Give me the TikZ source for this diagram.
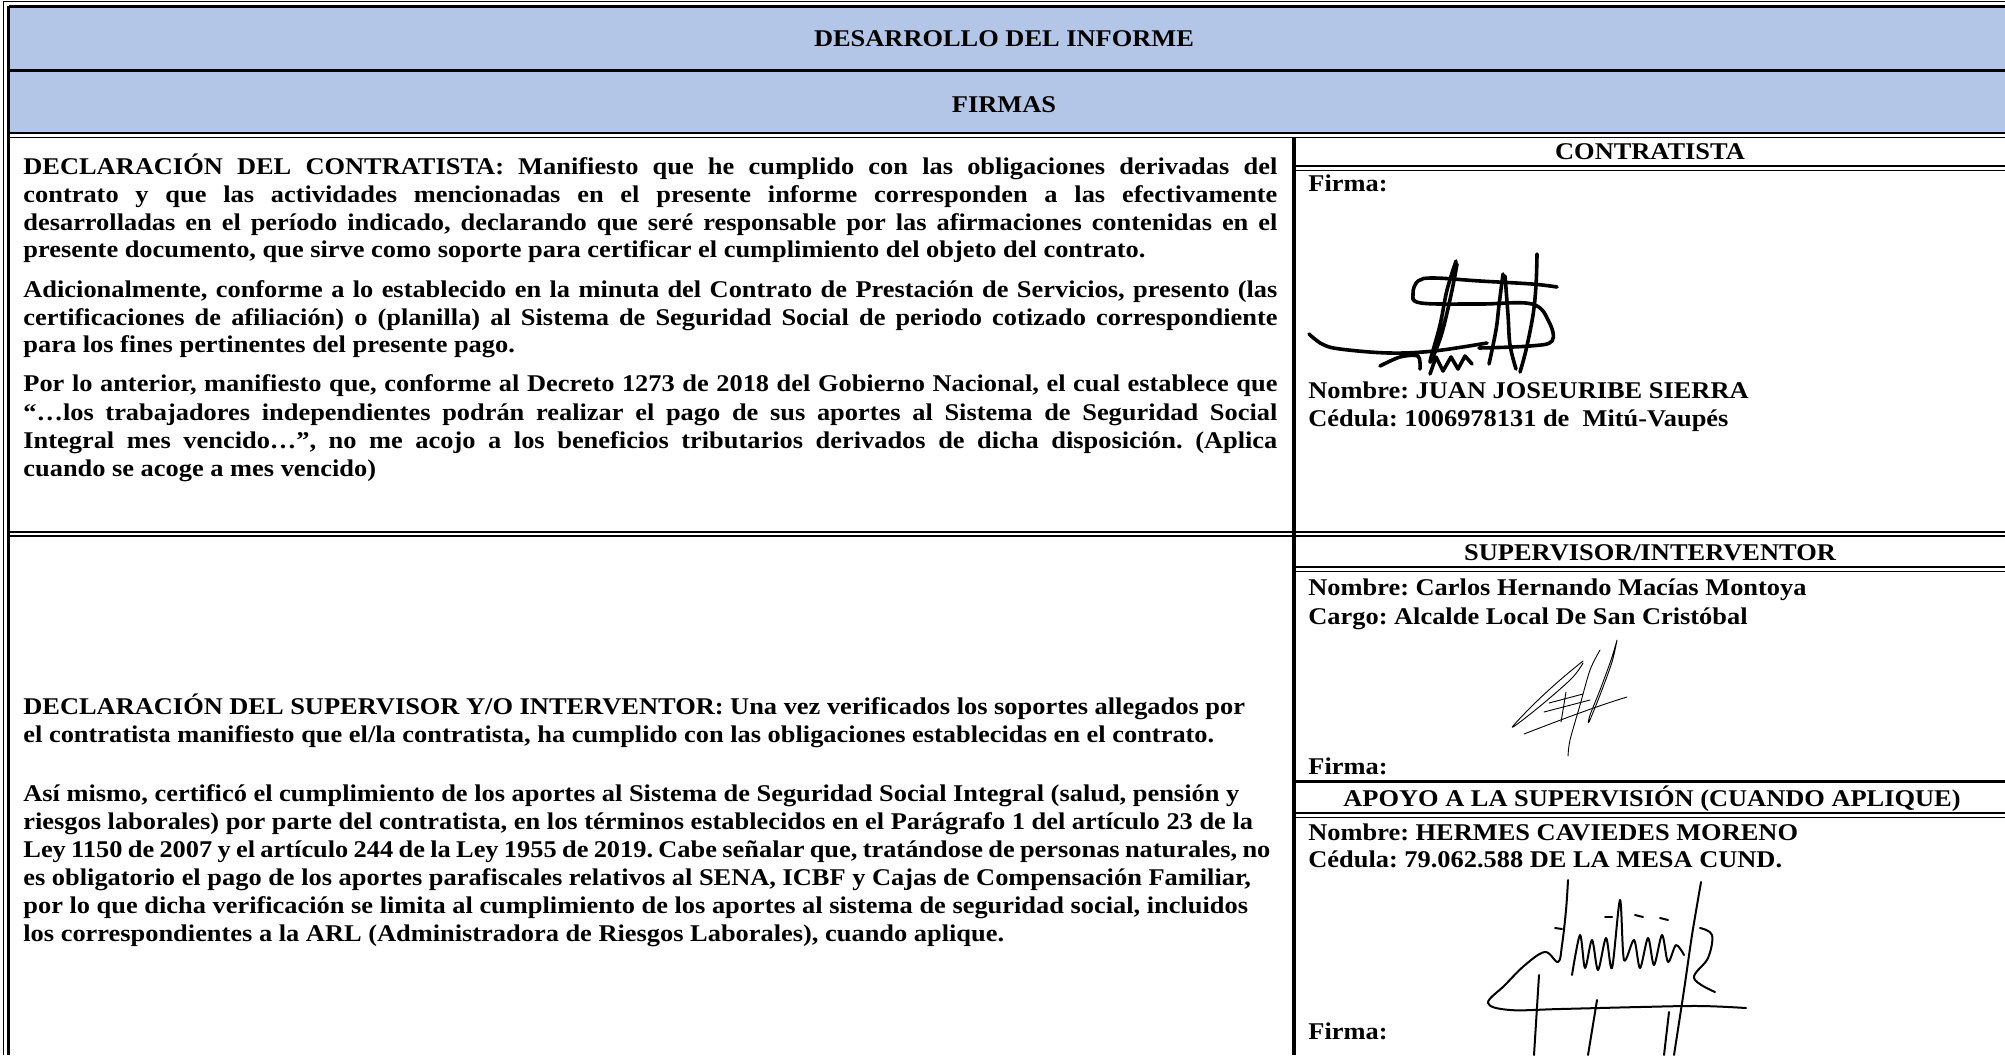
\documentclass[tikz,border=0pt]{standalone}
\usepackage{fontspec}
\setmainfont{Liberation Serif}[FakeStretch=1.10]
\definecolor{hdrblue}{HTML}{B4C6E7}
\newcommand{\jline}[1]{\makebox[627pt][s]{#1}}
\tikzset{
  body/.style={inner sep=0pt, anchor=base west, font=\fontsize{12pt}{14pt}\selectfont\bfseries\frenchspacing},
  headtxt/.style={inner sep=0pt, anchor=base, font=\fontsize{12pt}{14pt}\selectfont\bfseries\frenchspacing},
  thinrule/.style={line width=0.6pt},
  midrule/.style={line width=1pt},
  thickrule/.style={line width=1.5pt},
  sigthick/.style={line width=1.8pt, line cap=round, line join=round},
  sigthin/.style={line width=0.45pt, line cap=round, line join=round},
  sigmid/.style={line width=1pt, line cap=round, line join=round},
}
\begin{document}
\begin{tikzpicture}[x=0.5pt,y=-0.5pt]
\useasboundingbox (0,0) rectangle (2005,1055);
\fill[white] (0,0) rectangle (2005,1055);
% header bands
\fill[hdrblue] (9,6) rectangle (2005,133);
% outer double border
\draw[line width=0.65pt] (3.3,1.8) -- (2005,1.8);
\draw[line width=0.65pt] (3.3,1.8) -- (3.3,1055);
\draw[line width=1.35pt] (8.7,6.2) -- (2005,6.2);
\draw[line width=1.35pt] (8.7,6.2) -- (8.7,1055);
% header separators
\draw[thickrule] (8.7,70) -- (2005,70);
\draw[midrule] (8.7,133) -- (2005,133);
\draw[thinrule] (8.7,137.5) -- (2005,137.5);
% vertical divider
\draw[line width=1.6pt] (1294,137.5) -- (1294,1055);
% right column rules
\draw[midrule] (1295,166) -- (2005,166);
\draw[thinrule] (1295,170.5) -- (2005,170.5);
% row boundary
\draw[midrule] (8.7,531.5) -- (2005,531.5);
\draw[thinrule] (8.7,536) -- (2005,536);
\draw[midrule] (1295,567) -- (2005,567);
\draw[thinrule] (1295,571.5) -- (2005,571.5);
\draw[thickrule] (1295,781) -- (2005,781);
\draw[midrule] (1295,813) -- (2005,813);
\draw[thinrule] (1295,817.5) -- (2005,817.5);

% headers
\node[headtxt] (h1) at (1004,46) {DESARROLLO DEL INFORME};
\node[headtxt] (h2) at (1004,112) {FIRMAS};

% row 1 left
\node[body] (a1) at (23,174) {\jline{DECLARACIÓN DEL CONTRATISTA: Manifiesto que he cumplido con las obligaciones derivadas del}};
\node[body] (a2) at (23,202) {\jline{contrato y que las actividades mencionadas en el presente informe corresponden a las efectivamente}};
\node[body] (a3) at (23,230) {\jline{desarrolladas en el período indicado, declarando que seré responsable por las afirmaciones contenidas en el}};
\node[body] (a4) at (23,257) {presente documento, que sirve como soporte para certificar el cumplimiento del objeto del contrato.};
\node[body] (b1) at (23,297) {\jline{Adicionalmente, conforme a lo establecido en la minuta del Contrato de Prestación de Servicios, presento (las}};
\node[body] (b2) at (23,325) {\jline{certificaciones de afiliación) o (planilla) al Sistema de Seguridad Social de periodo cotizado correspondiente}};
\node[body] (b3) at (23,352) {para los fines pertinentes del presente pago.};
\node[body] (c1) at (23,391) {\jline{Por lo anterior, manifiesto que, conforme al Decreto 1273 de 2018 del Gobierno Nacional, el cual establece que}};
\node[body] (c2) at (23,420) {\jline{“…los trabajadores independientes podrán realizar el pago de sus aportes al Sistema de Seguridad Social}};
\node[body] (c3) at (23,448) {\jline{Integral mes vencido…”, no me acojo a los beneficios tributarios derivados de dicha disposición. (Aplica}};
\node[body] (c4) at (23,476) {cuando se acoge a mes vencido)};

% row 1 right
\node[headtxt] (t1) at (1650,159) {CONTRATISTA};
\node[body] (f1) at (1308,191) {Firma:};
\node[body] (n1) at (1308,398) {Nombre: JUAN JOSEURIBE SIERRA};
\node[body] (d1) at (1308,426) {Cédula: 1006978131 de\ \ Mitú-Vaupés};

% row 2 left
\node[body] (s1) at (23,714) {DECLARACIÓN DEL SUPERVISOR Y/O INTERVENTOR: Una vez verificados los soportes allegados por};
\node[body] (s2) at (23,742) {el contratista manifiesto que el/la contratista, ha cumplido con las obligaciones establecidas en el contrato.};
\node[body] (s3) at (23,801) {Así mismo, certificó el cumplimiento de los aportes al Sistema de Seguridad Social Integral (salud, pensión y};
\node[body] (s4) at (23,829) {riesgos laborales) por parte del contratista, en los términos establecidos en el Parágrafo 1 del artículo 23 de la};
\node[body] (s5) at (23,857) {\makebox[623.5pt][s]{Ley 1150 de 2007 y el artículo 244 de la Ley 1955 de 2019. Cabe señalar que, tratándose de personas naturales, no}};
\node[body] (s6) at (23,885) {es obligatorio el pago de los aportes parafiscales relativos al SENA, ICBF y Cajas de Compensación Familiar,};
\node[body] (s7) at (23,913) {por lo que dicha verificación se limita al cumplimiento de los aportes al sistema de seguridad social, incluidos};
\node[body] (s8) at (23,941) {los correspondientes a la ARL (Administradora de Riesgos Laborales), cuando aplique.};

% row 2 right
\node[headtxt] (t2) at (1650,560) {SUPERVISOR/INTERVENTOR};
\node[body] (n2) at (1308,595) {Nombre: Carlos Hernando Macías Montoya};
\node[body] (g2) at (1308,624) {Cargo: Alcalde Local De San Cristóbal};
\node[body] (f2) at (1308,774) {Firma:};
\node[headtxt] (t3) at (1652,806) {APOYO A LA SUPERVISIÓN (CUANDO APLIQUE)};
\node[body] (n3) at (1308,840) {Nombre: HERMES CAVIEDES MORENO};
\node[body] (d3) at (1308,867) {Cédula: 79.062.588 DE LA MESA CUND.};
\node[body] (f3) at (1308,1039) {Firma:};

% signature 1 (contratista)
\draw[sigthick] plot[smooth, tension=0.6] coordinates {(1309,334) (1322,344) (1340,349) (1389,353) (1434,351) (1487,343)};
\draw[sigthick] plot[smooth, tension=0.6] coordinates {(1557,287) (1532,284) (1480,281) (1434,278) (1418,281) (1413,294) (1421,303) (1480,304) (1532,304) (1549,322) (1552,341) (1530,346) (1479,348)};
\draw[sigthick] plot[smooth, tension=0.6] coordinates {(1456,261) (1447,290) (1440,325) (1430,362) (1441,336) (1451,295) (1457,264)};
\draw[sigthick] plot[smooth, tension=0.6] coordinates {(1503,274) (1499,305) (1496,330) (1489,364)};
\draw[sigthick] plot[smooth, tension=0.6] coordinates {(1505,276) (1508,315) (1510,345) (1516,369)};
\draw[sigthick] plot[smooth, tension=0.6] coordinates {(1537,254) (1536,285) (1533,315) (1526,350) (1520,372)};
\draw[sigthick] plot[smooth, tension=0.5] coordinates {(1380,366) (1400,357) (1418,356) (1420,369)};
\draw[sigthick] (1430,374) -- (1436,357) -- (1443,371) -- (1451,357) -- (1458,369) -- (1465,356) -- (1472,364);

% signature 2 (supervisor)
\draw[sigthin] plot[smooth, tension=0.6] coordinates {(1583,661) (1560,680) (1535,703) (1513,726) (1520,722) (1545,702) (1572,678) (1583,663)};
\draw[sigthin] plot[smooth] coordinates {(1600,650) (1590,670) (1580,705) (1570,740) (1568,756)};
\draw[sigthin] plot[smooth] coordinates {(1617,640) (1611,660) (1600,690) (1590,715) (1589,722) (1600,695) (1612,662) (1617,640)};
\draw[sigthin] (1524,734) .. controls (1560,720) and (1600,705) .. (1627,697);
\draw[sigthin] (1544,712) -- (1590,700);
\draw[sigthin] (1549,703) -- (1583,694);
\draw[sigthin] (1566,692) -- (1561,722);

% signature 3 (apoyo)
\draw[sigmid] plot[smooth, tension=0.6] coordinates {(1568,880) (1566,910) (1562,945) (1558,962) (1545,952) (1525,965) (1505,985) (1488,1003) (1510,1010) (1560,1009) (1640,1007) (1700,1006) (1746,1008)};
\draw[sigmid] (1539,975) -- (1534,1055);
\draw[sigmid] (1597,1000) -- (1588,1055);
\draw[sigmid] (1669,1012) -- (1664,1055);
\draw[sigmid] plot[smooth] coordinates {(1701,882) (1692,935) (1684,990) (1674,1055)};
\draw[sigmid] plot[smooth, tension=0.5] coordinates {(1572,975) (1580,935) (1585,968) (1592,940) (1598,970) (1606,938) (1612,968) (1620,900) (1624,960) (1634,940) (1640,968) (1648,938) (1654,965) (1662,935) (1668,962) (1676,945) (1684,955)};
\draw[sigmid] plot[smooth, tension=0.6] coordinates {(1700,928) (1712,935) (1708,958) (1694,978) (1715,992)};
\draw[sigmid] (1555,928) -- (1562,929);
\draw[sigmid] (1605,917) -- (1612,917);
\draw[sigmid] (1635,915) -- (1643,917);
\draw[sigmid] (1660,918) -- (1668,920);
\end{tikzpicture}
\end{document}
